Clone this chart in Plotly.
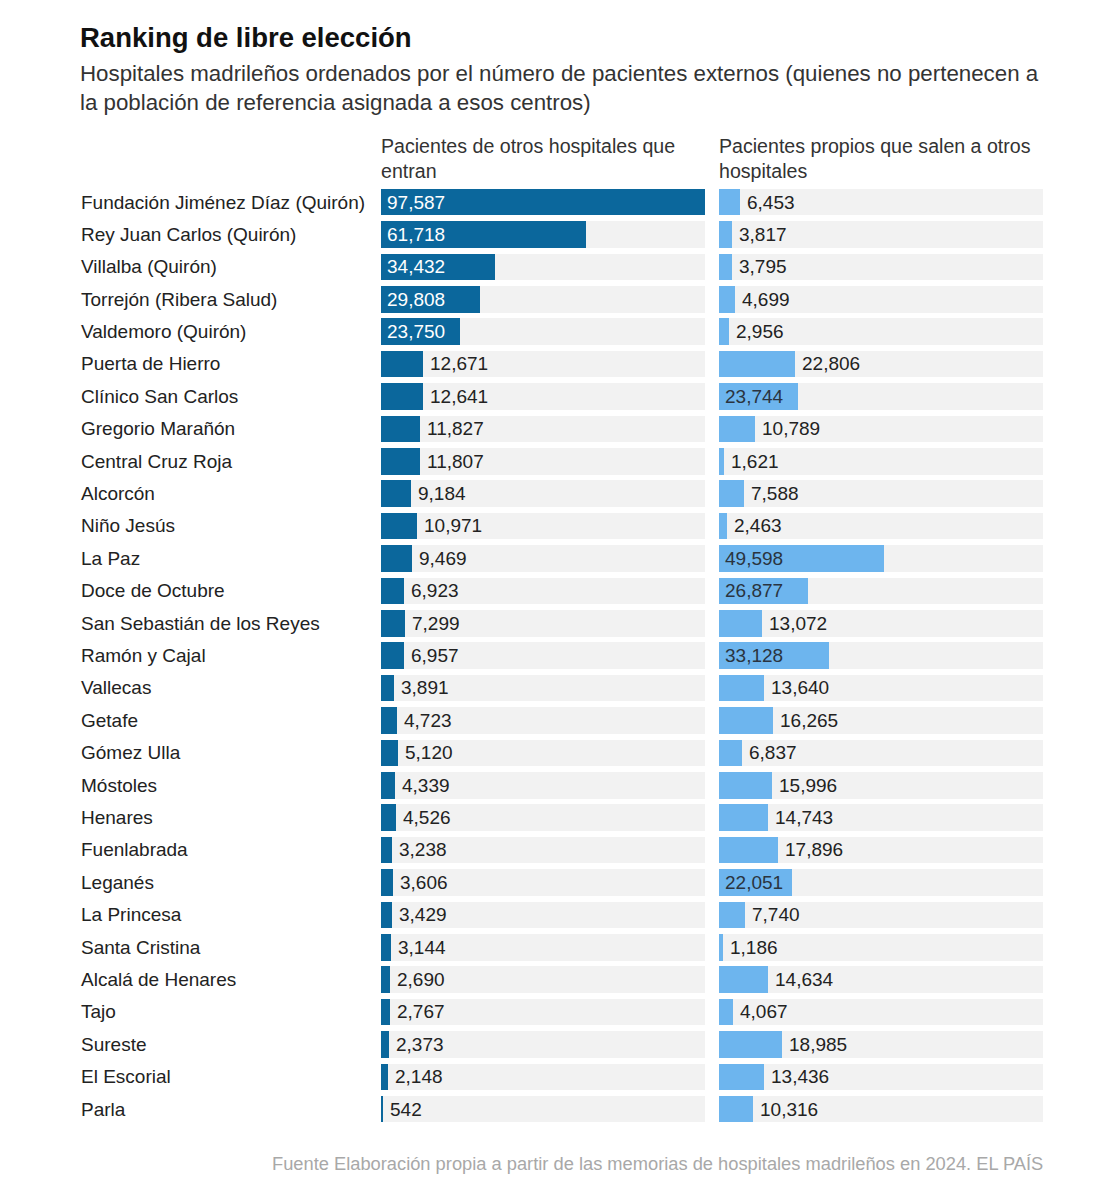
import plotly.graph_objects as go

hospitales = [
    "Fundación Jiménez Díaz (Quirón)", "Rey Juan Carlos (Quirón)", "Villalba (Quirón)",
    "Torrejón (Ribera Salud)", "Valdemoro (Quirón)", "Puerta de Hierro", "Clínico San Carlos",
    "Gregorio Marañón", "Central Cruz Roja", "Alcorcón", "Niño Jesús", "La Paz",
    "Doce de Octubre", "San Sebastián de los Reyes", "Ramón y Cajal", "Vallecas", "Getafe",
    "Gómez Ulla", "Móstoles", "Henares", "Fuenlabrada", "Leganés", "La Princesa",
    "Santa Cristina", "Alcalá de Henares", "Tajo", "Sureste", "El Escorial", "Parla",
]
entran = [97587, 61718, 34432, 29808, 23750, 12671, 12641, 11827, 11807, 9184, 10971, 9469,
          6923, 7299, 6957, 3891, 4723, 5120, 4339, 4526, 3238, 3606, 3429, 3144, 2690, 2767,
          2373, 2148, 542]
salen = [6453, 3817, 3795, 4699, 2956, 22806, 23744, 10789, 1621, 7588, 2463, 49598,
         26877, 13072, 33128, 13640, 16265, 6837, 15996, 14743, 17896, 22051, 7740, 1186,
         14634, 4067, 18985, 13436, 10316]
# labels drawn inside the bar
dentro_entran = {"Fundación Jiménez Díaz (Quirón)", "Rey Juan Carlos (Quirón)", "Villalba (Quirón)",
                 "Torrejón (Ribera Salud)", "Valdemoro (Quirón)"}
dentro_salen = {"Clínico San Carlos", "La Paz", "Doce de Octubre", "Ramón y Cajal", "Leganés"}

titulo = "Ranking de libre elección"
subtitulo = ("Hospitales madrileños ordenados por el número de pacientes externos (quienes no pertenecen a"
             "<br>la población de referencia asignada a esos centros)")
cab_izq = "Pacientes de otros hospitales que<br>entran"
cab_der = "Pacientes propios que salen a otros<br>hospitales"
fuente = "Fuente Elaboración propia a partir de las memorias de hospitales madrileños en 2024. EL PAÍS"

W, H = 1115, 1200
OFF = 8  # page body margin
FONT = "Liberation Sans"
DARK = "#0b679c"
LIGHT = "#6db5ee"
GREY = "#f2f2f2"
TXT = "#222222"

n = len(hospitales)
ys = list(range(n))
vmax = max(max(entran), max(salen))

def px(x):
    return (x - OFF) / W

def py(y):
    return 1 - (y - OFF) / H

fig = go.Figure()
for xa, vals, col in [("x", entran, DARK), ("x2", salen, LIGHT)]:
    fig.add_trace(go.Bar(x=[vmax] * n, y=ys, orientation="h", marker=dict(color=GREY, line=dict(width=0)),
                         width=0.82, xaxis=xa, yaxis="y", hoverinfo="skip", showlegend=False))
    fig.add_trace(go.Bar(x=vals, y=ys, orientation="h", marker=dict(color=col, line=dict(width=0)),
                         width=0.82, xaxis=xa, yaxis="y", showlegend=False))

ann = []
for i, h in enumerate(hospitales):
    ann.append(dict(x=px(79), xref="paper", y=i, yref="y", text=h, showarrow=False, xanchor="left",
                    yanchor="middle", font=dict(family=FONT, size=19, color=TXT)))
    if h in dentro_entran:
        ann.append(dict(x=0, xref="x", y=i, yref="y", text=f"{entran[i]:,}", showarrow=False,
                        xanchor="left", xshift=4, font=dict(family=FONT, size=19, color="white")))
    else:
        ann.append(dict(x=entran[i], xref="x", y=i, yref="y", text=f"{entran[i]:,}", showarrow=False,
                        xanchor="left", xshift=5, font=dict(family=FONT, size=19, color=TXT)))
    if h in dentro_salen:
        ann.append(dict(x=0, xref="x2", y=i, yref="y", text=f"{salen[i]:,}", showarrow=False,
                        xanchor="left", xshift=4, font=dict(family=FONT, size=19, color="#2a3440")))
    else:
        ann.append(dict(x=salen[i], xref="x2", y=i, yref="y", text=f"{salen[i]:,}", showarrow=False,
                        xanchor="left", xshift=5, font=dict(family=FONT, size=19, color=TXT)))

ann.append(dict(x=px(78), y=py(37), xref="paper", yref="paper", text=f"<b>{titulo}</b>", showarrow=False,
                xanchor="left", yanchor="middle", font=dict(family=FONT, size=27.5, color="#111111")))
ann.append(dict(x=px(78), y=py(88), xref="paper", yref="paper", text=subtitulo, showarrow=False,
                xanchor="left", yanchor="middle", align="left",
                font=dict(family=FONT, size=22.3, color="#333333")))
ann.append(dict(x=px(379), y=py(158), xref="paper", yref="paper", text=cab_izq, showarrow=False,
                xanchor="left", yanchor="middle", align="left",
                font=dict(family=FONT, size=19.6, color="#333333")))
ann.append(dict(x=px(717), y=py(158), xref="paper", yref="paper", text=cab_der, showarrow=False,
                xanchor="left", yanchor="middle", align="left",
                font=dict(family=FONT, size=19.6, color="#333333")))
ann.append(dict(x=px(1045), y=py(1163), xref="paper", yref="paper", text=fuente, showarrow=False,
                xanchor="right", yanchor="middle",
                font=dict(family=FONT, size=18.3, color="#a8a8a8")))

axis_common = dict(range=[0, vmax], showgrid=False, zeroline=False, showticklabels=False,
                   showline=False, fixedrange=True)
fig.update_layout(
    width=W, height=H,
    margin=dict(l=0, r=0, t=0, b=0),
    paper_bgcolor="white", plot_bgcolor="white",
    barmode="overlay", bargap=0,
    xaxis=dict(domain=[px(381), px(705)], **axis_common),
    xaxis2=dict(domain=[px(719), px(1043)], anchor="y", **axis_common),
    yaxis=dict(domain=[py(1125.2), py(185.8)], range=[n - 0.5, -0.5], showticklabels=False,
               showgrid=False, zeroline=False, fixedrange=True),
    annotations=ann,
    font=dict(family=FONT),
)

fig.write_html("out.html")
